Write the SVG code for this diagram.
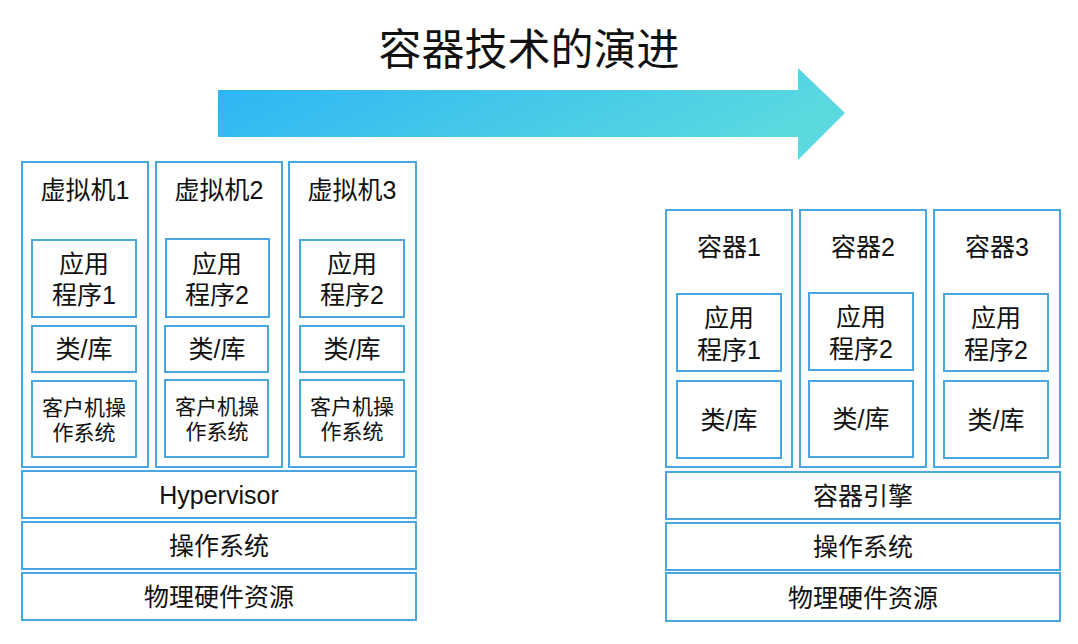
<svg xmlns="http://www.w3.org/2000/svg" width="1078" height="644" viewBox="0 0 1078 644">
<defs>
<linearGradient id="ag" x1="0" y1="0" x2="1" y2="0.3">
<stop offset="0" stop-color="#2ab3f6"/>
<stop offset="1" stop-color="#5ad9df"/>
</linearGradient>
<style>
rect{fill:#fff;stroke:#4aa6e0;stroke-width:2}
text{font-family:"Liberation Sans","Noto Sans CJK SC",sans-serif;fill:#111;text-anchor:middle;dominant-baseline:central}
.t{font-size:25px}
.s{font-size:21px}
.b{font-size:25px}
.title{font-size:43px}
</style>
</defs>
<rect x="0" y="0" width="1078" height="644" style="stroke:none;fill:#fff"/>
<g id="header">
<text class="title" x="529" y="50">容器技术的演进</text>
<polygon points="218,90 798,90 798,68 845,113 798,160 798,137 218,137" fill="url(#ag)"/>
</g>
<g id="vm1">
<rect x="22" y="162" width="126" height="305"/>
<text class="t" x="85" y="190">虚拟机1</text>
<rect x="32" y="240" width="104" height="77"/>
<text class="t" x="84" y="264">应用</text>
<text class="t" x="84" y="295">程序1</text>
<rect x="32" y="326" width="104" height="46"/>
<text class="t" x="84" y="349">类/库</text>
<rect x="32" y="381" width="104" height="76"/>
<text class="s" x="84" y="407">客户机操</text>
<text class="s" x="84" y="432">作系统</text>
</g>
<g id="vm2">
<rect x="156" y="162" width="126" height="305"/>
<text class="t" x="219" y="190">虚拟机2</text>
<rect x="166" y="239" width="103" height="78"/>
<text class="t" x="217" y="264">应用</text>
<text class="t" x="217" y="295">程序2</text>
<rect x="165" y="326" width="103" height="46"/>
<text class="t" x="217" y="349">类/库</text>
<rect x="165" y="380" width="103" height="77"/>
<text class="s" x="217" y="406">客户机操</text>
<text class="s" x="217" y="431">作系统</text>
</g>
<g id="vm3">
<rect x="289" y="162" width="127" height="305"/>
<text class="t" x="352" y="190">虚拟机3</text>
<rect x="300" y="240" width="104" height="77"/>
<text class="t" x="352" y="264">应用</text>
<text class="t" x="352" y="295">程序2</text>
<rect x="300" y="326" width="104" height="46"/>
<text class="t" x="352" y="349">类/库</text>
<rect x="300" y="380" width="104" height="77"/>
<text class="s" x="352" y="406">客户机操</text>
<text class="s" x="352" y="431">作系统</text>
</g>
<g id="hypervisor">
<rect x="22" y="471" width="394" height="47"/>
<text class="b" x="219" y="495">Hypervisor</text>
</g>
<g id="os-left">
<rect x="22" y="522" width="394" height="47"/>
<text class="b" x="219" y="546">操作系统</text>
</g>
<g id="hw-left">
<rect x="22" y="573" width="394" height="47"/>
<text class="b" x="219" y="597">物理硬件资源</text>
</g>
<g id="c1">
<rect x="666" y="210" width="126" height="257"/>
<text class="t" x="729" y="247">容器1</text>
<rect x="677" y="294" width="104" height="77"/>
<text class="t" x="729" y="318">应用</text>
<text class="t" x="729" y="350">程序1</text>
<rect x="677" y="381" width="104" height="77"/>
<text class="t" x="729" y="420">类/库</text>
</g>
<g id="c2">
<rect x="800" y="210" width="126" height="257"/>
<text class="t" x="863" y="247">容器2</text>
<rect x="809" y="293" width="104" height="77"/>
<text class="t" x="861" y="317">应用</text>
<text class="t" x="861" y="349">程序2</text>
<rect x="809" y="381" width="104" height="76"/>
<text class="t" x="861" y="419">类/库</text>
</g>
<g id="c3">
<rect x="934" y="210" width="126" height="257"/>
<text class="t" x="997" y="247">容器3</text>
<rect x="944" y="294" width="104" height="77"/>
<text class="t" x="996" y="318">应用</text>
<text class="t" x="996" y="350">程序2</text>
<rect x="944" y="381" width="104" height="77"/>
<text class="t" x="996" y="420">类/库</text>
</g>
<g id="engine">
<rect x="666" y="472" width="394" height="47"/>
<text class="b" x="863" y="496">容器引擎</text>
</g>
<g id="os-right">
<rect x="666" y="523" width="394" height="47"/>
<text class="b" x="863" y="547">操作系统</text>
</g>
<g id="hw-right">
<rect x="666" y="573" width="394" height="48"/>
<text class="b" x="863" y="598">物理硬件资源</text>
</g>
<g id="connectors"></g>
</svg>
